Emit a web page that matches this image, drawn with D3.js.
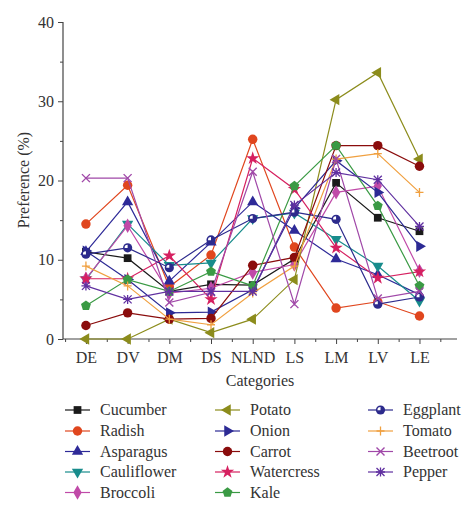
<!DOCTYPE html>
<html><head><meta charset="utf-8">
<script src="https://cdn.jsdelivr.net/npm/d3@7"></script>
<style>body{margin:0;background:#fff}svg{display:block}</style>
</head><body><svg id="c" width="474" height="515" font-family="Liberation Serif"></svg>
<script>
const categories = ["DE","DV","DM","DS","NLND","LS","LM","LV","LE"];
const yTickValues = [0,10,20,30,40];
const seriesNames = ["Cucumber","Radish","Asparagus","Cauliflower","Broccoli","Potato","Onion","Carrot","Watercress","Kale","Eggplant","Tomato","Beetroot","Pepper"];
const cucumber    = [11.0,10.2,6.0,6.9,6.8,10.1,19.7,15.3,13.6];
const radish      = [14.5,19.4,6.6,10.6,25.2,11.6,3.9,4.7,2.9];
const asparagus   = [11.0,17.3,7.3,12.2,17.3,13.7,10.1,8.1,5.6];
const cauliflower = [7.5,14.5,9.3,9.6,15.2,15.9,12.6,9.2,4.8];
const broccoli    = [7.6,14.3,5.8,6.4,8.4,9.4,18.5,19.3,8.6];
const potato      = [0,0,2.5,0.8,2.5,7.5,30.2,33.6,22.7];
const onion       = [11.1,7.5,3.3,3.4,6.2,16.5,22.5,18.5,11.7];
const carrot      = [1.7,3.3,2.5,2.6,9.3,10.3,24.4,24.4,21.8];
const watercress  = [7.6,7.6,10.5,5.0,22.8,18.9,11.5,7.7,8.5];
const kale        = [4.2,7.5,6.0,8.5,6.7,19.3,24.4,16.8,6.7];
const eggplant    = [10.7,11.5,9.0,12.5,15.2,16.0,15.1,4.4,5.3];
const tomato      = [9.2,6.7,2.5,1.8,5.8,9.2,22.7,23.4,18.5];
const beetroot    = [20.3,20.3,4.6,5.9,21.1,4.4,22.7,5.1,6.0];
const pepper      = [6.7,5.0,6.0,6.0,6.0,16.9,21.0,20.1,14.2];

const values = [cucumber,radish,asparagus,cauliflower,broccoli,potato,onion,carrot,watercress,kale,eggplant,tomato,beetroot,pepper];
const colors = ["#1a1a1a","#e0461e","#2e2a98","#188c8c","#c04aa8","#8c8c1c","#2c2a94","#8a0c0c","#d62060","#3a9a44","#2c2a8c","#f0a040","#a048a8","#6030a0"];
const shapes = ["square","circle","up","down","diamond","left","right","circle","star","pentagon","half","plus","x","asterisk"];
const FONT = "Liberation Serif";
const TXT = "#333";

const svg = d3.select("#c");
const L=63, R=457, T=22, B=339;
const x = d3.scaleLinear().domain([0.45,9.9]).range([L,R]);
const y = d3.scaleLinear().domain([0,40]).range([B,T]);

// axes
const ax = svg.append("g");
ax.append("line").attr("x1",L).attr("x2",R).attr("y1",B).attr("y2",B).attr("stroke","#444").attr("stroke-width",1.2);
ax.append("line").attr("x1",L).attr("x2",L).attr("y1",B).attr("y2",T).attr("stroke","#444").attr("stroke-width",1.2);
const xg = svg.append("g").attr("transform",`translate(0,${B})`)
  .call(d3.axisBottom(x).tickValues(d3.range(1,10)).tickFormat(i=>categories[i-1]).tickSize(5).tickSizeOuter(0));
const xm = svg.append("g").attr("transform",`translate(0,${B})`)
  .call(d3.axisBottom(x).tickValues(d3.range(0.5,10,1)).tickFormat("").tickSize(3).tickSizeOuter(0));
const yg = svg.append("g").attr("transform",`translate(${L},0)`)
  .call(d3.axisLeft(y).tickValues(yTickValues).tickSize(5).tickSizeOuter(0));
const ym = svg.append("g").attr("transform",`translate(${L},0)`)
  .call(d3.axisLeft(y).tickValues([5,15,25,35]).tickFormat("").tickSize(3).tickSizeOuter(0));
[xg,xm,yg,ym].forEach(g=>{g.attr("font-family",FONT).attr("font-size",16);g.select(".domain").remove();g.selectAll("line").attr("stroke","#444");
  g.selectAll("text").attr("fill",TXT);});
xg.selectAll("text").attr("dy","1.0em");
yg.selectAll("text").attr("dx","-1px");

svg.append("text").attr("x",260).attr("y",386).attr("text-anchor","middle").attr("font-size",16).attr("fill",TXT).text("Categories");
svg.append("text").attr("transform","translate(29,180) rotate(-90)").attr("text-anchor","middle").attr("font-size",16).attr("fill",TXT).text("Preference (%)");

// markers
function pentagonPath(r){const p=[];for(let i=0;i<5;i++){const a=-Math.PI/2+i*2*Math.PI/5;p.push([r*Math.cos(a),r*Math.sin(a)]);}return "M"+p.join("L")+"Z";}
function drawMarker(g,shape,color,cx,cy){
  const s=g.append("g").attr("transform",`translate(${cx},${cy})`);
  const sym=(t,size,rot)=>s.append("path").attr("d",d3.symbol().type(t).size(size)()).attr("transform",rot?`rotate(${rot})`:null).attr("fill",color);
  switch(shape){
    case "square": sym(d3.symbolSquare,60); break;
    case "circle": sym(d3.symbolCircle,70); break;
    case "up": sym(d3.symbolTriangle,55); break;
    case "down": sym(d3.symbolTriangle,55,180); break;
    case "left": sym(d3.symbolTriangle,55,-90); break;
    case "right": sym(d3.symbolTriangle,55,90); break;
    case "diamond": sym(d3.symbolDiamond,60); break;
    case "star": sym(d3.symbolStar,55); break;
    case "pentagon": s.append("path").attr("d",pentagonPath(5.2)).attr("fill",color); break;
    case "half":
      s.append("circle").attr("r",4.6).attr("fill",color);
      s.append("path").attr("d","M-3,0.2A3,3 0 0 1 0,-3L0,0.2Z").attr("fill","#fff");
      break;
    case "plus":
      s.append("path").attr("d","M0,-4.5V4.5M-4,0H4").attr("stroke",color).attr("stroke-width",1.3); break;
    case "x":
      s.append("path").attr("d","M-4,-4L4,4M-4,4L4,-4").attr("stroke",color).attr("stroke-width",1.4); break;
    case "asterisk":
      s.append("path").attr("d","M-4,-4L4,4M-4,4L4,-4M-4.5,0H4.5M0,-4.5V4.5").attr("stroke",color).attr("stroke-width",1.3); break;
  }
}

const line = d3.line().x((d,i)=>x(i+1)).y(d=>y(d));
const plot = svg.append("g");
values.forEach((vals,k)=>{
  const g=plot.append("g");
  g.append("path").attr("d",line(vals)).attr("fill","none").attr("stroke",colors[k]).attr("stroke-width",1.2);
  vals.forEach((v,i)=>drawMarker(g,shapes[k],colors[k],x(i+1),y(v)));
});

// legend
const colX=[65,215,368], rowY=[410,431,451.5,472,492.5];
const leg=svg.append("g");
seriesNames.forEach((name,k)=>{
  const c=Math.floor(k/5), r=k%5;
  const lx=colX[c], ly=rowY[r];
  leg.append("line").attr("x1",lx).attr("x2",lx+25).attr("y1",ly).attr("y2",ly).attr("stroke",colors[k]).attr("stroke-width",1.2);
  drawMarker(leg,shapes[k],colors[k],lx+12.5,ly);
  leg.append("text").attr("x",lx+35).attr("y",ly+5).attr("font-size",16).attr("fill",TXT).text(name);
});
</script></body></html>
